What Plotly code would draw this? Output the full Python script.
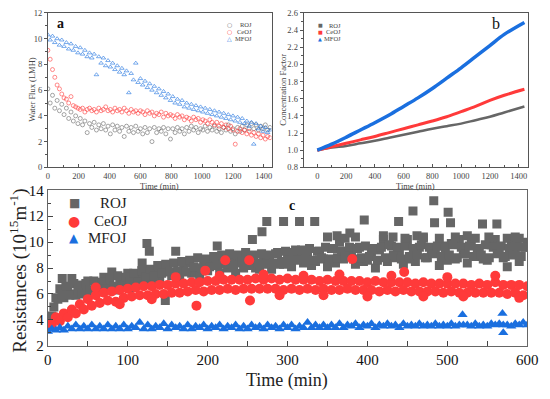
import plotly.graph_objects as go

# ---------------- Panel a: water flux (LMH), sampled every 15 min ----------------
flux_step = 15
flux_ROJ = [6.1, 5.0, 5.6, 4.6, 5.2, 4.4, 4.9, 4.1, 4.6, 3.8, 4.3, 3.6, 4.0, 3.4, 3.8, 3.3, 3.6, 2.7, 3.4, 3.1,
            3.5, 2.9, 3.3, 3.0, 3.4, 2.9, 3.2, 2.6, 3.3, 2.9, 3.2, 2.8, 3.1, 2.4, 3.2, 2.8, 3.1, 2.7, 3.2, 2.8,
            3.0, 2.6, 3.1, 2.7, 3.0, 2.0, 3.1, 2.7, 3.0, 2.8, 3.1, 2.6, 3.0, 2.2, 3.0, 2.7, 3.1, 2.8, 3.0, 2.6,
            3.1, 2.8, 3.2, 2.9, 3.1, 2.7, 3.0, 2.9, 3.2, 2.8, 3.1, 2.9, 3.2, 2.8, 3.0, 2.7, 3.1, 2.9, 3.3, 2.8,
            3.0, 2.6, 3.1, 2.8, 3.2, 2.9, 3.3, 3.0, 3.4, 3.0, 3.3, 2.9, 3.2, 3.0, 3.3, 2.9, 3.1]
flux_CeOJ = [9.1, 8.4, 7.6, 7.0, 6.4, 6.1, 5.7, 5.4, 5.3, 5.0, 5.5, 4.8, 4.7, 4.6, 4.5, 4.6, 4.3, 4.5, 4.6, 4.4,
             4.5, 4.3, 4.6, 4.4, 4.5, 4.7, 4.4, 4.5, 4.3, 4.6, 4.4, 4.5, 4.3, 4.6, 4.4, 4.2, 4.5, 4.3, 4.4, 4.2,
             4.4, 4.3, 4.1, 4.4, 4.2, 4.3, 4.0, 4.2, 4.1, 4.3, 3.9, 4.2, 4.0, 4.1, 4.0, 3.8, 4.1, 3.9, 4.0, 3.7,
             3.9, 3.8, 3.6, 3.9, 3.7, 3.8, 3.5, 3.7, 3.6, 3.4, 3.7, 3.5, 3.3, 3.5, 3.2, 3.4, 3.1, 3.3, 3.0, 3.2,
             2.9, 1.8, 2.8, 3.0, 2.7, 2.9, 2.6, 2.8, 2.5, 2.7, 2.4, 2.6, 2.3, 2.5, 2.2, 2.4, 2.3]
flux_MFOJ = [10.3, 9.9, 10.2, 9.7, 10.0, 9.5, 9.9, 9.4, 9.7, 9.2, 9.6, 9.1, 9.4, 8.9, 9.3, 8.8, 9.1, 8.6, 8.9, 8.5,
             8.8, 7.2, 8.6, 8.1, 8.5, 7.9, 8.3, 7.8, 8.1, 7.6, 7.9, 7.4, 7.7, 7.2, 7.5, 5.8, 7.3, 6.8, 8.1, 6.6,
             6.9, 6.4, 6.7, 6.2, 6.5, 6.0, 6.3, 5.8, 6.1, 5.6, 5.9, 5.4, 5.7, 5.2, 5.5, 5.0, 5.3, 4.9, 5.2, 4.7,
             5.0, 4.6, 4.9, 4.5, 4.8, 4.4, 4.7, 4.3, 4.6, 4.2, 4.5, 4.1, 4.4, 4.0, 4.3, 3.9, 4.2, 3.8, 4.1, 3.7,
             4.0, 3.6, 3.9, 3.5, 3.8, 3.4, 3.6, 3.2, 3.5, 1.8, 3.4, 3.0, 3.2, 2.8, 3.1, 2.7, 2.9]

# ---------------- Panel b: concentration factor ----------------
cf_time = [0, 100, 200, 300, 400, 500, 600, 700, 800, 900, 1000, 1100, 1200, 1300, 1440]
cf_ROJ = [1.00, 1.03, 1.05, 1.08, 1.11, 1.145, 1.18, 1.215, 1.25, 1.28, 1.31, 1.35, 1.39, 1.44, 1.51]
cf_CeOJ = [1.00, 1.04, 1.08, 1.12, 1.16, 1.205, 1.25, 1.295, 1.34, 1.39, 1.45, 1.51, 1.58, 1.64, 1.71]
cf_MFOJ = [1.00, 1.07, 1.15, 1.235, 1.32, 1.41, 1.51, 1.61, 1.72, 1.84, 1.96, 2.09, 2.22, 2.35, 2.49]

# ---------------- Panel c: resistances (10^15 m^-1) ----------------
res_step = 5
# ROJ: readings at 0, 5, 10 ... 600 min
res_ROJ = [3.8, 4.3, 5.7, 6.4, 5.7, 6.4, 6.0, 5.9, 6.7, 6.2, 7.0, 6.0, 6.7, 6.3, 7.3, 6.6, 7.7, 6.3, 7.2, 6.8,
           7.6, 6.5, 7.3, 7.4, 7.0, 7.7, 7.0, 7.8, 7.1, 7.9, 8.1, 7.4, 7.5, 7.2, 8.0, 8.4, 7.6, 8.0, 7.4, 8.5,
           7.8, 8.3, 8.4, 7.6, 8.7, 8.0, 8.6, 7.6, 8.4, 8.0, 8.9, 8.8, 8.0, 7.9, 8.8, 8.5, 7.9, 9.1, 8.3, 8.3,
           9.0, 8.1, 9.4, 9.2, 8.4, 9.0, 8.2, 8.5, 9.3, 8.7, 8.1, 9.5, 8.4, 10.0, 8.7, 9.3, 9.0, 8.3, 9.6, 8.5,
           8.6, 9.1, 8.0, 9.4, 10.2, 8.5, 9.7, 8.8, 9.2, 8.3, 10.2, 8.7, 8.5, 9.6, 10.3, 8.8, 9.4, 9.3, 8.2, 9.7,
           8.6, 9.9, 8.7, 10.2, 9.1, 8.4, 10.2, 8.9, 9.5, 8.7, 8.6, 9.8, 10.2, 9.3, 8.8, 8.1, 10.2, 9.2, 8.5, 9.6,
           10.0]
# ROJ: readings at 2.5, 7.5, 12.5 ... 597.5 min
res_ROJ_half = [4.0, 5.0, 5.6, 6.0, 6.6, 5.9, 6.8, 6.3, 6.0, 6.8, 6.3, 7.0, 6.2, 6.9, 6.4, 7.2, 6.6, 7.4, 6.5, 7.3,
                7.0, 7.6, 6.9, 7.8, 7.3, 7.9, 7.4, 8.2, 7.6, 8.3, 7.7, 8.4, 7.8, 8.5, 7.7, 8.6, 8.1, 8.8, 8.0, 8.7,
                8.1, 8.9, 8.2, 9.0, 8.3, 9.1, 8.2, 9.0, 8.5, 9.2,
                8.2, 9.0, 8.4, 9.1, 8.3, 9.0, 8.4, 9.2, 8.5, 9.3, 8.5, 9.2, 8.6, 9.4, 8.7, 9.5, 8.6, 9.3, 8.8, 9.6,
                8.7, 9.5, 8.8, 9.3, 8.9, 9.6, 8.7, 9.5, 8.8, 9.7, 8.9, 9.5, 8.6, 9.6, 8.8, 9.8, 9.0, 9.6, 8.7, 9.7,
                8.9, 9.5, 9.0, 9.8, 8.8, 9.6, 9.1, 9.7, 8.9, 9.5, 9.0, 9.8, 8.8, 9.6, 9.1, 9.7, 8.9, 9.5, 9.0, 9.8,
                8.8, 9.6, 9.1, 9.7, 8.9, 9.5, 9.0, 9.7, 8.9, 9.6]
res_ROJ_extra_t = [18, 30, 118, 124, 127, 147, 160, 212, 256, 268, 274, 295, 315, 334, 350, 362, 372, 378,
                   385, 396, 420, 432, 439, 447, 457, 462, 470, 483, 484, 490, 501, 504, 510, 525, 535, 544,
                   552, 562, 575, 585, 590]
res_ROJ_extra_v = [7.2, 7.2, 8.4, 9.9, 9.3, 5.5, 9.3, 9.7, 10.2, 10.8, 11.6, 11.6, 11.6, 11.6, 10.4, 10.5,
                   10.3, 10.7, 10.4, 11.7, 10.5, 10.4, 11.6, 10.3, 12.4, 10.5, 10.4, 13.2, 11.5, 10.3, 12.3,
                   11.5, 10.4, 10.5, 10.3, 11.4, 10.4, 11.4, 10.3, 10.4, 10.3]
res_CeOJ = [3.7, 3.6, 4.2, 3.9, 4.5, 4.2, 4.8, 4.5, 5.2, 4.8, 5.6, 5.1, 5.9, 5.3, 6.1, 5.5, 6.2, 5.4, 6.3, 5.7,
            6.4, 5.8, 6.5, 5.9, 6.6, 5.9, 6.6, 6.0, 6.7, 6.0, 6.7, 6.1, 6.8, 6.1, 6.8, 6.2, 6.9, 6.3, 6.9, 6.2,
            7.0, 6.3, 7.0, 6.3, 7.1, 6.4, 7.1, 6.3, 7.1, 6.4, 7.1, 6.4, 7.2, 6.4, 7.1, 6.4, 7.2, 6.4, 7.1, 6.3,
            7.2, 6.4, 7.1, 6.3, 7.1, 6.4, 7.1, 6.3, 7.0, 6.4, 7.1, 6.3, 7.0, 6.3, 7.0, 6.4, 7.0, 6.3, 7.0, 6.3,
            6.9, 6.3, 7.0, 6.2, 6.9, 6.3, 6.9, 6.2, 6.9, 6.3, 6.9, 6.2, 6.8, 6.2, 6.9, 6.2, 6.8, 6.2, 6.8, 6.1,
            6.8, 6.2, 6.8, 6.1, 6.8, 6.1, 6.7, 6.1, 6.8, 6.1, 6.7, 6.1, 6.9, 6.1, 6.7, 6.0, 6.7, 6.1, 6.7, 5.9,
            6.6]
res_CeOJ_extra_t = [60, 90, 130, 160, 186, 197, 215, 222, 252, 253, 270, 290, 320, 345, 365, 381, 400, 430,
                    446, 470, 500, 520, 560, 590]
res_CeOJ_extra_v = [6.5, 5.2, 5.6, 7.3, 5.1, 7.8, 7.4, 8.6, 8.6, 5.5, 7.5, 5.9, 7.4, 5.9, 7.5, 8.7, 5.8, 7.4,
                    7.7, 5.8, 7.3, 5.8, 7.4, 5.7]
res_MFOJ = [3.1, 3.3, 3.2, 3.4, 3.2, 3.5, 3.3, 3.6, 3.3, 3.5, 3.3, 3.6, 3.3, 3.5, 3.3, 3.6, 3.3, 3.5, 3.3, 3.6,
            3.3, 3.5, 3.4, 3.8, 3.3, 3.6, 3.3, 3.5, 3.4, 3.7, 3.3, 3.6, 3.4, 3.5, 3.3, 3.6, 3.3, 3.5, 3.4, 3.6,
            3.3, 3.5, 3.4, 3.6, 3.3, 3.5, 3.4, 3.6, 3.3, 3.5, 3.3, 3.6, 3.4, 3.5, 3.3, 3.6, 3.4, 3.5, 3.3, 3.6,
            3.4, 3.6, 3.3, 3.5, 3.4, 3.8, 3.4, 3.6, 3.4, 3.6, 3.4, 3.6, 3.4, 3.7, 3.4, 3.6, 3.5, 3.7, 3.4, 3.6,
            3.5, 3.7, 3.4, 3.6, 3.5, 3.7, 3.5, 3.6, 3.4, 3.7, 3.5, 3.6, 3.5, 3.7, 3.5, 3.6, 3.5, 3.7, 3.5, 3.6,
            3.5, 3.7, 3.5, 3.6, 3.6, 3.6, 3.5, 3.7, 3.5, 3.6, 3.5, 3.7, 3.6, 3.7, 3.6, 3.6, 3.5, 3.7, 3.6, 3.8,
            3.6]
res_MFOJ_extra_t = [519, 569, 570]
res_MFOJ_extra_v = [4.4, 4.5, 3.0]

names = ["ROJ", "CeOJ", "MFOJ"]
GRAY, RED, BLUE = "#666666", "#ff3a3a", "#1a6fdf"
colors = [GRAY, RED, BLUE]

SERIF = "Liberation Serif"
GLYPH = "DejaVu Sans"

fig = go.Figure()

# panel a
for name, vals, col, sym in zip(names, [flux_ROJ, flux_CeOJ, flux_MFOJ], colors,
                                ["circle-open", "circle-open", "triangle-up-open"]):
    fig.add_trace(go.Scatter(
        x=[i * flux_step for i in range(len(vals))], y=vals, mode="markers", name=name,
        marker=dict(symbol=sym, size=4, color=col, opacity=0.65, line=dict(width=0.9)),
        xaxis="x", yaxis="y", showlegend=False))

# panel b
for name, vals, col, w in zip(names, [cf_ROJ, cf_CeOJ, cf_MFOJ], colors, [2.5, 3, 3.5]):
    fig.add_trace(go.Scatter(
        x=cf_time, y=vals, mode="lines", name=name, line=dict(color=col, width=w, shape="spline"),
        xaxis="x2", yaxis="y2", showlegend=False))

# panel c
c_x = [
    [i * res_step for i in range(len(res_ROJ))] + [2.5 + i * res_step for i in range(len(res_ROJ_half))]
    + res_ROJ_extra_t,
    [i * res_step for i in range(len(res_CeOJ))] + res_CeOJ_extra_t,
    [i * res_step for i in range(len(res_MFOJ))] + res_MFOJ_extra_t,
]
c_y = [res_ROJ + res_ROJ_half + res_ROJ_extra_v, res_CeOJ + res_CeOJ_extra_v, res_MFOJ + res_MFOJ_extra_v]
for name, xs, ys, col, sym, sz in zip(names, c_x, c_y, colors, ["square", "circle", "triangle-up"], [9, 10, 9]):
    fig.add_trace(go.Scatter(
        x=xs, y=ys, mode="markers", name=name,
        marker=dict(symbol=sym, size=sz, color=col, line=dict(width=0)),
        xaxis="x3", yaxis="y3", showlegend=False))

small_common = dict(showline=True, linecolor="#555555", linewidth=1, mirror=True,
                    ticklen=3, tickcolor="#555555", showgrid=False, zeroline=False,
                    tickfont=dict(family=SERIF, size=8.5, color="#444444"))
small_x = dict(ticks="inside", minor=dict(ticks="inside", ticklen=2, dtick=100, tickcolor="#555555"),
               **small_common)

fig.update_layout(
    width=550, height=399, margin=dict(l=0, r=0, t=0, b=0, pad=0),
    paper_bgcolor="white", plot_bgcolor="white", showlegend=False,
    xaxis=dict(domain=[0.082, 0.5], range=[0, 1450], dtick=200, anchor="y", **small_x),
    yaxis=dict(domain=[0.584, 0.987], range=[0, 12], dtick=2, anchor="x", ticks="outside",
               minor=dict(ticks="outside", ticklen=2, dtick=1, tickcolor="#555555"), **small_common),
    xaxis2=dict(domain=[0.56, 0.98], range=[-95, 1467], dtick=200, anchor="y2", **small_x),
    yaxis2=dict(domain=[0.584, 0.987], range=[0.8, 2.6], dtick=0.2, tickformat=".1f", anchor="x2",
                ticks="outside", minor=dict(ticks="outside", ticklen=2, dtick=0.1, tickcolor="#555555"),
                **small_common),
    xaxis3=dict(domain=[0.082, 0.978], range=[0, 600], dtick=100, anchor="y3",
                showline=True, linecolor="#666666", linewidth=1, mirror=True, ticks="inside",
                ticklen=5, tickcolor="#444444", showgrid=False, zeroline=False,
                minor=dict(ticks="inside", ticklen=5, dtick=50, tickcolor="#444444"),
                tickfont=dict(family=SERIF, size=15, color="#111111")),
    yaxis3=dict(domain=[0.118, 0.524], range=[2, 14], dtick=2, anchor="x3",
                showline=True, linecolor="#666666", linewidth=1, mirror=True, ticks="inside",
                ticklen=5, tickcolor="#444444", showgrid=False, zeroline=False,
                minor=dict(ticks="inside", ticklen=3, dtick=1, tickcolor="#444444"),
                tickfont=dict(family=SERIF, size=15, color="#111111")),
)


def put(text, x, y, size, family, color, angle=0, xanchor="center"):
    fig.add_annotation(text=text, x=x / 550, y=1 - y / 399, xref="paper", yref="paper",
                       showarrow=False, textangle=angle, xanchor=xanchor, yanchor="middle",
                       font=dict(family=family, size=size, color=color))


# panel labels and axis titles
put("<b>a</b>", 58, 16, 14, SERIF, "#111111")
put("b", 506, 16, 16, SERIF, "#111111")
put("<b>c</b>", 296, 206, 14, SERIF, "#111111")
put("Water Flux (LMH)", 28, 85, 8.5, SERIF, "#444444", angle=-90)
put("Time (min)", 160, 185, 8.5, SERIF, "#444444")
put("Concentration Factor", 286, 85, 8.5, SERIF, "#444444", angle=-90)
put("Time (min)", 423, 185, 8.5, SERIF, "#444444")
put("Time (min)", 291, 388, 18, SERIF, "#222222")
put("Resistances (10<sup>15</sup>m<sup>-1</sup>)", 14, 274, 19, SERIF, "#222222", angle=-90)

# legends (drawn as text so the rows can sit as close as in the reference)
for i, (name, col) in enumerate(zip(names, colors)):
    ya = [17, 24.5, 32][i]
    put(["○", "○", "△"][i], 232, ya, 6, GLYPH, col)
    put(name, 257, ya, 6.5, SERIF, "#444444", xanchor="right")
    yb = [18, 25, 32][i]
    put(["■", "■", "▲"][i], 325, yb, 5, GLYPH, col)
    put(name, 349, yb, 6.5, SERIF, "#444444", xanchor="right")
    yc = [203, 221.5, 240][i]
    put(["■", "●", "▲"][i], 72, yc, [12, 14, 12][i], GLYPH, col)
    put(name, 128, yc, 15, SERIF, "#222222", xanchor="right")

fig.write_html("out.html", config={"displayModeBar": False},
               post_script="document.body.style.margin='0px';")
